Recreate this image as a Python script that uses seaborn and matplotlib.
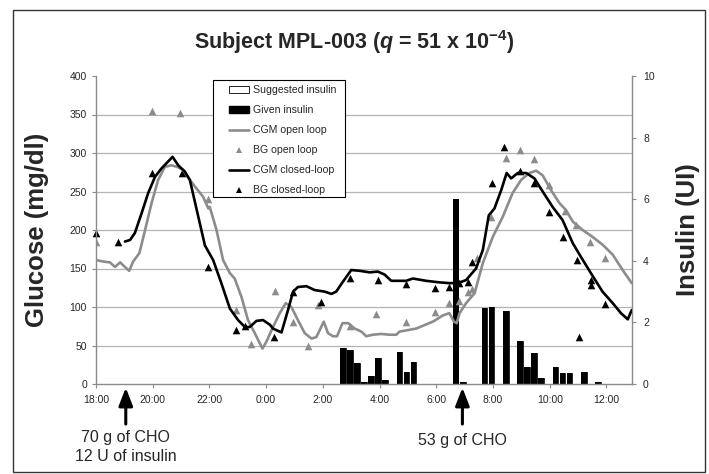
import numpy as np
import matplotlib.pyplot as plt
import matplotlib.patches as mpatches
from matplotlib.lines import Line2D
import seaborn as sns

# x values are hours elapsed since 18:00
tick_hours = [0, 2, 4, 6, 8, 10, 12, 14, 16, 18]
tick_labels = ['18:00', '20:00', '22:00', '0:00', '2:00', '4:00', '6:00',
               '8:00', '10:00', '12:00']

cgm_open_t = [0, 0.26, 0.49, 0.67, 0.85, 1.02, 1.17, 1.31, 1.53, 1.73, 1.96,
              2.19, 2.43, 2.66, 2.86, 3.07, 3.31, 3.54, 3.78, 3.96, 4.01, 4.25,
              4.48, 4.72, 4.89, 5.13, 5.36, 5.6, 5.87, 6.01, 6.19, 6.48, 6.69,
              6.89, 7.12, 7.36, 7.6, 7.77, 7.89, 8.03, 8.18, 8.36, 8.5, 8.69,
              8.89, 9.12, 9.36, 9.53, 9.76, 10.06, 10.35, 10.59, 10.7, 11.29,
              11.88, 12.23, 12.46, 12.62, 12.72, 12.82, 13.05, 13.35, 13.64,
              13.99, 14.34, 14.69, 14.99, 15.28, 15.52, 15.75, 16.04, 16.34,
              16.57, 16.81, 17.16, 17.51, 17.86, 18.22, 18.57, 18.89]
cgm_open_g = [161, 159, 158, 152, 158, 152, 147, 159, 170, 200, 235,
              265, 282, 284, 282, 278, 265, 254, 243, 228, 230, 200,
              161, 144, 137, 113, 83, 66, 46, 55, 70, 92, 105,
              100, 83, 66, 59, 61, 70, 81, 66, 62, 62, 79,
              79, 72, 68, 62, 64, 65, 64, 64, 68, 72,
              81, 89, 92, 81, 79, 92, 105, 118, 157,
              191, 217, 248, 265, 274, 277, 271, 252, 235,
              226, 211, 200, 191, 181, 168, 148, 131]

cgm_closed_t = [1.02, 1.2, 1.37, 1.61, 1.84, 2.08, 2.31, 2.7, 2.9, 3.13, 3.31,
                3.54, 3.84, 4.13, 4.42, 4.72, 5.01, 5.25, 5.42, 5.66, 5.89,
                6.13, 6.24, 6.54, 6.77, 6.95, 7.12, 7.42, 7.71, 8.06, 8.3,
                8.47, 8.71, 9.0, 9.3, 9.65, 9.94, 10.18, 10.41, 10.94, 11.17,
                11.64, 12.11, 12.46, 12.76, 13.05, 13.4, 13.64, 13.85, 14.05,
                14.29, 14.48, 14.64, 14.87, 15.17, 15.46, 15.75, 16.1, 16.45,
                16.81, 17.1, 17.45, 17.86, 18.22, 18.51, 18.75, 18.89]
cgm_closed_g = [185, 187, 196, 222, 248, 269, 280, 295, 284, 276, 265,
                228, 180, 161, 131, 98, 83, 74, 74, 82, 83,
                77, 72, 67, 96, 120, 126, 127, 122, 120, 117,
                120, 133, 148, 147, 145, 146, 142, 134, 134, 137,
                134, 132, 131, 131, 135, 150, 174, 219, 228,
                252, 274, 267, 274, 274, 267, 250, 230, 213,
                183, 165, 144, 120, 105, 92, 84, 96]

bg_open_t = [0, 1.96, 2.96, 3.96, 4.95, 5.46, 6.3, 6.95, 7.48, 7.83, 8.94,
             9.88, 10.94, 11.94, 12.44, 12.79, 13.11, 13.26, 13.44, 13.93,
             14.46, 14.95, 15.46, 15.99, 16.54, 16.92, 17.43, 17.95]
bg_open_g = [185, 354, 352, 240, 96, 52, 121, 81, 50, 102, 75,
             91, 81, 94, 105, 108, 120, 123, 163, 217,
             293, 304, 292, 258, 225, 206, 185, 163]

bg_closed_t = [0, 0.79, 1.96, 3.05, 3.96, 4.95, 5.27, 6.27, 6.96, 7.95, 8.94,
               9.94, 10.94, 11.94, 12.44, 12.79, 13.11, 13.26, 13.97, 14.4,
               14.95, 15.46, 15.96, 16.45, 16.95, 17.02, 17.45, 17.47, 17.95]
bg_closed_g = [196, 185, 274, 274, 152, 70, 75, 61, 120, 106, 138,
               135, 130, 125, 126, 131, 133, 159, 261, 308,
               277, 261, 223, 191, 161, 61, 135, 129, 104]

insulin_t = [8.70, 8.95, 9.20, 9.45, 9.70, 9.95, 10.20, 10.70, 10.95, 11.20,
             12.70, 12.95, 13.70, 13.95, 14.45, 14.95, 15.20, 15.45, 15.70,
             16.20, 16.45, 16.70, 17.20, 17.70]
given_u = [1.16, 1.10, 0.67, 0.08, 0.26, 0.86, 0.12, 1.05, 0.40, 0.70,
           6.0, 0.05, 2.47, 2.51, 2.36, 1.41, 0.56, 1.02, 0.21,
           0.56, 0.37, 0.37, 0.40, 0.05]
suggested_u = [1.16, 1.10, 0.67, 0.08, 0.26, 0.86, 0.12, 1.05, 0.40, 0.70,
               0.0, 0.05, 2.47, 2.51, 2.36, 1.41, 0.56, 1.02, 0.21,
               0.56, 0.37, 0.37, 0.40, 0.05]

meal_t = [1.05, 12.92]
meal_text = ['70 g of CHO\n12 U of insulin', '53 g of CHO']

GRAY = '#8c8c8c'
AXC = '#8a8a8a'

sns.set_theme(style='white')
plt.rcParams['font.family'] = ['Liberation Sans', 'DejaVu Sans']
plt.rcParams['mathtext.fontset'] = 'custom'
plt.rcParams['mathtext.rm'] = 'Liberation Sans:bold'
plt.rcParams['mathtext.it'] = 'Liberation Sans:bold:italic'
plt.rcParams['mathtext.bf'] = 'Liberation Sans:bold'

fig = plt.figure(figsize=(7.09, 4.74), dpi=100)
ax = fig.add_axes([96 / 709, 1 - 384 / 474, 536 / 709, 308 / 474])
ax2 = ax.twinx()

# insulin bars (right axis)
sns.barplot(x=insulin_t, y=suggested_u, ax=ax2, native_scale=True, orient='x',
            color='white', edgecolor='black', linewidth=0.6, saturation=1,
            errorbar=None, width=0.8)
sns.barplot(x=insulin_t, y=given_u, ax=ax2, native_scale=True, orient='x',
            color='black', linewidth=0, saturation=1, errorbar=None, width=0.8)

# glucose traces (left axis)
sns.lineplot(x=cgm_open_t, y=cgm_open_g, ax=ax, color=GRAY, linewidth=1.9,
             legend=False)
sns.scatterplot(x=bg_open_t, y=bg_open_g, ax=ax, color=GRAY, marker='^', s=30,
                linewidth=0, legend=False)
sns.lineplot(x=cgm_closed_t, y=cgm_closed_g, ax=ax, color='black',
             linewidth=1.9, legend=False)
sns.scatterplot(x=bg_closed_t, y=bg_closed_g, ax=ax, color='black', marker='^',
                s=30, linewidth=0, legend=False, clip_on=False)

ax.set_zorder(ax2.get_zorder() + 1)
ax.patch.set_visible(False)

ax.set_xlim(0, 18.9)
ax.set_ylim(0, 400)
ax2.set_ylim(0, 10)
ax.set_xticks(tick_hours)
ax.set_xticklabels(tick_labels)
ax.set_yticks(np.arange(0, 401, 50))
ax.set_yticklabels([str(v) for v in range(0, 401, 50)])
ax2.set_yticks(np.arange(0, 11, 2))
ax2.set_yticklabels([str(v) for v in range(0, 11, 2)])

# horizontal grid follows the glucose ticks, drawn below the bars
ax2.set_yticks(np.arange(0, 10.01, 1.25), minor=True)
ax2.yaxis.grid(True, which='minor', color='#b4b4b4', linewidth=0.9)
ax2.yaxis.grid(False, which='major')
ax.grid(False)
ax2.set_axisbelow(True)

for s in ['top', 'right']:
    ax.spines[s].set_visible(False)
for s in ['top', 'left', 'bottom']:
    ax2.spines[s].set_visible(False)
for sp in [ax.spines['left'], ax.spines['bottom'], ax2.spines['right']]:
    sp.set_color(AXC)
    sp.set_linewidth(1.0)

ax.tick_params(axis='x', direction='out', length=3, width=0.8, color=AXC,
               labelsize=7.5, pad=5, bottom=True)
ax.tick_params(axis='y', direction='out', length=3, width=0.8, color=AXC,
               labelsize=7.5, pad=3.5, left=True)
ax2.tick_params(axis='y', which='major', direction='out', length=3, width=0.8,
                color=AXC, labelsize=7.5, pad=5, right=True)
ax2.tick_params(axis='y', which='minor', length=0)

ax.set_xlabel('')
ax.set_ylabel('Glucose (mg/dl)', fontsize=18.5, fontweight='bold')
ax.yaxis.set_label_coords((49 - 96) / 536, 0.5)
ax2.set_ylabel('Insulin (UI)', fontsize=18.5, fontweight='bold', rotation=90)
ax2.yaxis.set_label_coords((676 - 96) / 536, 0.5)

fig.text(0.5, 1 - 42 / 474, r'Subject MPL-003 ($q$ = 51 x 10$^{\mathrm{-4}}$)',
         ha='center', va='center', fontsize=15.5, fontweight='bold')

# legend: entries without their own frame, box drawn separately
handles = [
    mpatches.Patch(facecolor='white', edgecolor='black', linewidth=0.6),
    mpatches.Patch(facecolor='black', edgecolor='black'),
    Line2D([], [], color=GRAY, linewidth=1.9),
    Line2D([], [], color=GRAY, marker='^', linestyle='none', markersize=5,
           markeredgewidth=0),
    Line2D([], [], color='black', linewidth=1.9),
    Line2D([], [], color='black', marker='^', linestyle='none', markersize=5,
           markeredgewidth=0),
]
labels = ['Suggested insulin', 'Given insulin', 'CGM open loop', 'BG open loop',
          'CGM closed-loop', 'BG closed-loop']
box = mpatches.Rectangle(((213 - 96) / 536, (384 - 197) / 308), 132 / 536,
                         117 / 308, transform=ax.transAxes, facecolor='white',
                         edgecolor='black', linewidth=0.8, zorder=4.5,
                         clip_on=False)
ax.add_patch(box)
leg = ax.legend(handles, labels, loc='upper left',
                bbox_to_anchor=((229 - 96) / 536, (384 - 85) / 308),
                borderaxespad=0, borderpad=0, fontsize=7.6, frameon=False,
                labelspacing=0.95, handlelength=1.9, handleheight=0.6,
                handletextpad=0.35)

# meal annotations below the time axis
xtr = ax.get_xaxis_transform()
for t, txt in zip(meal_t, meal_text):
    ax.annotate('', xy=(t, -0.012), xycoords=xtr, xytext=(t, -0.13),
                textcoords=xtr, annotation_clip=False,
                arrowprops=dict(arrowstyle='-|>,head_width=0.35,head_length=0.9',
                                color='black', lw=2.2, shrinkA=0, shrinkB=0))
ax.text(meal_t[0], -0.15, meal_text[0], transform=xtr, ha='center', va='top',
        fontsize=11.5, linespacing=1.3)
ax.text(meal_t[1], -0.182, meal_text[1], transform=xtr, ha='center',
        va='center', fontsize=11.5)

# outer frame
fig.patches.append(mpatches.Rectangle((13 / 709, 2 / 474), 692 / 709, 462 / 474,
                                      transform=fig.transFigure, fill=False,
                                      edgecolor='#333333', linewidth=1.0))

fig.savefig('out.png', dpi=100)
